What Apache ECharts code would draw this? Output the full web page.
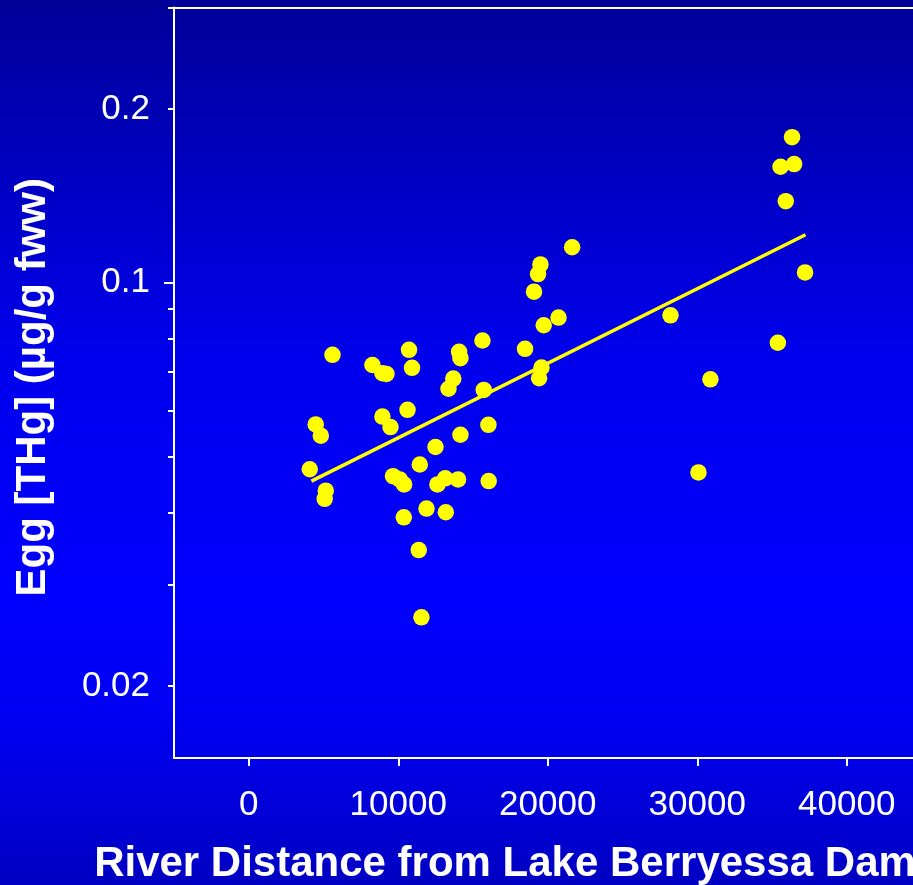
<!DOCTYPE html>
<html>
<head>
<meta charset="utf-8">
<script src="https://cdn.jsdelivr.net/npm/echarts@6/dist/echarts.min.js"></script>
<style>
  html, body { margin: 0; padding: 0; }
  #chart { width: 913px; height: 885px; }
</style>
</head>
<body>
<div id="chart"></div>
<script>
// River distance below the dam (m) for each egg sample
const distance = [
  4080, 4480, 4820, 5080, 5150, 5600, 8270, 8940, 8940, 9210,
  9480, 9650, 10100, 10370, 10390, 10620, 10720, 10920, 11370, 11440,
  11550, 11890, 12490, 12620, 13140, 13180, 13360, 13680, 14000, 14070,
  14160, 14160, 15630, 15720, 16030, 16050, 18480, 19080, 19350, 19420,
  19510, 19580, 19730, 20720, 21630, 28210, 30080, 30880, 35390, 35570,
  35920, 36340, 36480, 37210
];
// Total mercury in eggs (µg/g fresh wet weight)
const eggTHg = [
  0.0475, 0.0568, 0.0543, 0.0422, 0.0436, 0.0750, 0.0720, 0.0697, 0.0586, 0.0695,
  0.0562, 0.0462, 0.0456, 0.0392, 0.0447, 0.0602, 0.0765, 0.0712, 0.0344, 0.0484,
  0.0263, 0.0406, 0.0519, 0.0447, 0.0458, 0.0400, 0.0655, 0.0682, 0.0456, 0.0759,
  0.0740, 0.0545, 0.0794, 0.0652, 0.0567, 0.0453, 0.0768, 0.0965, 0.1035, 0.0683,
  0.1076, 0.0713, 0.0844, 0.0870, 0.1152, 0.0878, 0.0469, 0.0680, 0.0787, 0.1589,
  0.1385, 0.1788, 0.1606, 0.1042
];
// Fitted trend (end points)
const trendDistance = [4190, 37240];
const trendTHg = [0.0453, 0.1211];

// Axis ticks and labels
const xTicks = [0, 10000, 20000, 30000, 40000];
const yTicks = [0.3, 0.2, 0.1, 0.09, 0.08, 0.07, 0.06, 0.05, 0.04, 0.03, 0.02];
const yMajorTicks = [0.1];
const yLabels = [0.2, 0.1, 0.02];

const points = distance.map((d, i) => [d, eggTHg[i]]);
const trend = trendDistance.map((d, i) => [d, trendTHg[i]]);

const white = '#ffffff';
const font = '"Liberation Sans", Arial, Helvetica, sans-serif';

const chart = echarts.init(document.getElementById('chart'));
chart.setOption({
  animation: false,
  backgroundColor: new echarts.graphic.LinearGradient(0, 0, 0, 1, [
    { offset: 0, color: '#000098' },
    { offset: 0.4, color: '#0000ec' },
    { offset: 0.68, color: '#0000ff' },
    { offset: 0.82, color: '#0000f0' },
    { offset: 1, color: '#0000c2' }
  ]),
  grid: {
    left: 174, top: 7.5, right: 0, height: 750.5,
    containLabel: false, outerBoundsMode: 'none'
  },
  xAxis: [{
    type: 'value',
    min: -5000,
    max: 44430,
    position: 'bottom',
    splitLine: { show: false },
    axisLine: { show: true, onZero: false, lineStyle: { color: white, width: 2 } },
    axisTick: { show: true, customValues: xTicks, length: 8, lineStyle: { color: white, width: 2 } },
    axisLabel: {
      customValues: xTicks, color: white, fontSize: 35, fontFamily: font, margin: 30,
      formatter: v => String(Math.round(v))
    },
    name: 'River Distance from Lake Berryessa Dam (m)',
    nameLocation: 'middle',
    nameGap: 85,
    nameTextStyle: { color: white, fontSize: 42, fontWeight: 'bold', fontFamily: font }
  }, {
    type: 'value',
    min: -5000,
    max: 44430,
    position: 'top',
    splitLine: { show: false },
    axisLine: { show: true, onZero: false, lineStyle: { color: white, width: 2 } },
    axisTick: { show: false },
    axisLabel: { show: false }
  }],
  yAxis: [{
    type: 'log',
    logBase: 10,
    min: 0.015,
    max: 0.3,
    position: 'left',
    splitLine: { show: false },
    minorTick: { show: false },
    axisLine: { show: true, onZero: false, lineStyle: { color: white, width: 2 } },
    axisTick: { show: true, customValues: yTicks, length: 6, lineStyle: { color: white, width: 2 } },
    axisLabel: {
      customValues: yLabels, color: white, fontSize: 35, fontFamily: font, margin: 24,
      formatter: v => String(+v.toPrecision(3))
    },
    name: 'Egg [THg] (µg/g fww)',
    nameLocation: 'middle',
    nameRotate: 90,
    nameGap: 120,
    nameTextStyle: {
      color: white, fontSize: 42, fontWeight: 'bold', fontFamily: font,
      padding: [0, 9, 0, 0]
    }
  }, {
    type: 'log',
    logBase: 10,
    min: 0.015,
    max: 0.3,
    position: 'left',
    offset: 0,
    splitLine: { show: false },
    axisLine: { show: false, onZero: false },
    axisTick: { show: true, customValues: yMajorTicks, length: 10, lineStyle: { color: white, width: 2 } },
    axisLabel: { show: false }
  }],
  series: [{
    type: 'line',
    data: trend,
    xAxisIndex: 0,
    yAxisIndex: 0,
    showSymbol: false,
    symbol: 'none',
    lineStyle: { color: '#ffff00', width: 3.5 },
    z: 2
  }, {
    type: 'scatter',
    data: points,
    xAxisIndex: 0,
    yAxisIndex: 0,
    symbol: 'circle',
    symbolSize: 16.5,
    itemStyle: { color: '#ffff00', opacity: 1 },
    z: 3
  }]
});
</script>
</body>
</html>
